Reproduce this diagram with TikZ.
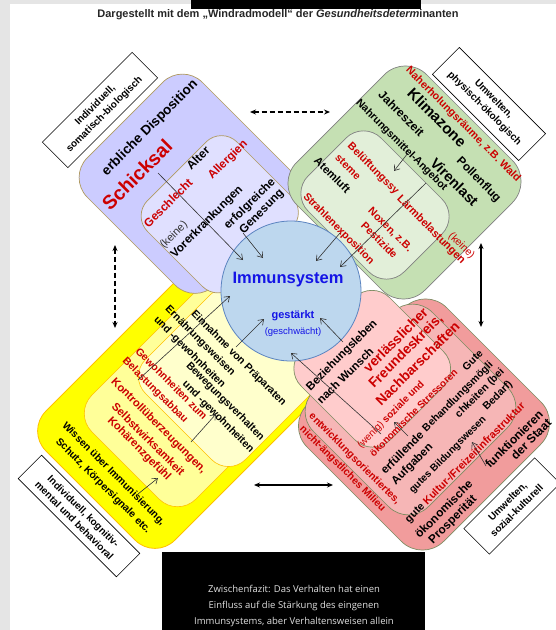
\documentclass[tikz,border=0pt]{standalone}
\usepackage{fontspec}
\setmainfont{Liberation Sans}
\newfontfamily\osans{Open Sans}
\usetikzlibrary{arrows.meta}
\definecolor{pO}{HTML}{CCCCFF}\definecolor{pI}{HTML}{E0E0FF}\definecolor{pB}{HTML}{B09A60}
\definecolor{gO}{HTML}{C5E0B3}\definecolor{gI}{HTML}{E2EFD9}\definecolor{gB}{HTML}{808080}
\definecolor{yO}{HTML}{FFFF00}\definecolor{yM}{HTML}{FFFF99}\definecolor{yI}{HTML}{FFFFCC}\definecolor{yB}{HTML}{FFC000}
\definecolor{rO}{HTML}{F19C9C}\definecolor{rM}{HTML}{F6B6B6}\definecolor{rI}{HTML}{FFCCCC}\definecolor{rB}{HTML}{7E8C62}
\definecolor{cF}{HTML}{BDD7EE}\definecolor{cB}{HTML}{5B84C0}
\definecolor{myred}{HTML}{CC0000}\definecolor{myblue}{HTML}{1414E6}
\newcommand{\fz}[1]{\fontsize{#1}{#1}\selectfont}
\newcommand{\fzl}[2]{\fontsize{#1}{#2}\selectfont}
% style, smin, smax, tmin, tmax  (s=x+y, t=x-y in pixel coordinates)
\newcommand{\windblob}[5]{%
  \path[#1] ({(#2+(#4))/2},{(#2-(#4))/2}) -- ({(#3+(#4))/2},{(#3-(#4))/2})
   -- ({(#3+(#5))/2},{(#3-(#5))/2}) -- ({(#2+(#5))/2},{(#2-(#5))/2}) -- cycle;}
\begin{document}
\begin{tikzpicture}[x=1pt,y=-1pt,
  up/.style={rotate=45, inner sep=0pt},
  dn/.style={rotate=-45, inner sep=0pt},
  rd/.style={text=myred},
  arr/.style={draw=black!80, line width=0.6pt, -{Straight Barb[length=5pt,width=7pt]}},
  dbl/.style={draw=black, line width=1.1pt, {Stealth[length=6pt,width=5pt]}-{Stealth[length=6pt,width=5pt]}},
  dsh/.style={dash pattern=on 5pt off 3pt},
  cbox/.style={draw=black, fill=white, line width=0.6pt, align=center, inner sep=1pt, font=\bfseries\fzl{10}{13}}]
\useasboundingbox (0,0) rectangle (556,630);
\fill[white] (0,0) rectangle (556,630);
\fill[black!10] (0,0) rectangle (10,630);
\fill[black!10] (0,0) rectangle (556,4);
\fill[black] (191,0) rectangle (421,9);
\node[font=\bfseries\fz{11}, text=black!85, inner sep=0pt] (title) at (278,15)
  {Dargestellt mit dem „Windradmodell“ der \textit{Gesundheitsdeterm}inanten};

% yellow
\windblob{fill=yO, draw=yB, line width=0.8pt, rounded corners=28pt}{457}{715}{-405}{-50}
\windblob{fill=yM, draw=yB, line width=0.6pt, rounded corners=26pt}{487}{695}{-340}{-50}
\windblob{fill=yI, draw=yB, line width=0.6pt, rounded corners=24pt}{505}{705}{-248}{-50}
% purple
\windblob{fill=pO, draw=pB, line width=0.7pt, rounded corners=28pt}{245}{500}{-110}{120}
\windblob{fill=pI, draw=pB, line width=0.7pt, rounded corners=22pt}{348}{520}{-84}{95}
% green
\windblob{fill=gO, draw=gB, line width=0.7pt, rounded corners=30pt}{459}{715}{92}{352}
\windblob{fill=gI, draw=gB, line width=0.7pt, rounded corners=25pt}{484}{676}{97}{243}
% red
\windblob{fill=rO, draw=rB, line width=0.7pt, rounded corners=30pt}{712}{985}{-140}{139}
\windblob{fill=rM, draw=rB, line width=0.7pt, rounded corners=28pt}{705}{935}{-118}{120}
\windblob{fill=rI, draw=rB, line width=0.7pt, rounded corners=25pt}{652}{830}{-85}{92}

% circle
\node[circle, fill=cF, draw=cB, line width=0.8pt, minimum size=140pt, inner sep=0pt] (imm) at (291,291) {};
\node[font=\bfseries\fz{16.5}, text=myblue, inner sep=0pt] (immt) at (288,280) {Immunsystem};
\node[font=\bfseries\fz{11}, text=myblue, inner sep=0pt] (gst) at (293,316) {gestärkt};
\node[font=\fz{9.5}, text=myblue, inner sep=0pt] (gsw) at (293,332) {(geschwächt)};

% purple texts
\node[up, font=\bfseries\fz{13.5}] (p1) at (150,128) {erbliche Disposition};
\node[up, rd, font=\bfseries\fz{19.5}] (p2) at (137,175) {Schicksal};
\node[up, font=\bfseries\fz{12}] (p3) at (198,158) {Alter};
\node[up, rd, font=\bfseries\fz{11.7}] (p4) at (228,160) {Allergien};
\node[up, rd, font=\bfseries\fz{11.7}] (p5) at (168,203) {Geschlecht};
\node[up, text=black!80, font=\fz{11}] (p6) at (174,235) {(keine)};
\node[up, font=\bfseries\fz{11.7}] (p7) at (207,222) {Vorerkrankungen};
\node[up, font=\bfseries\fz{11.7}] (p8) at (250,204) {erfolgreiche};
\node[up, font=\bfseries\fz{11.7}] (p9) at (262,212) {Genesung};

% green texts
\node[dn, rd, font=\bfseries\fz{10.7}] (g1) at (463,124.5) {Naherholungsräume, z.B. Wald};
\node[dn, font=\bfseries\fz{15.2}] (g2) at (437,117.5) {Klimazone};
\node[dn, font=\bfseries\fz{12}] (g3) at (401.5,113.5) {Jahreszeit};
\node[dn, font=\bfseries\fz{10.6}] (g4) at (401.5,145.5) {Nahrungsmittel-Angebot};
\node[dn, font=\bfseries\fz{14.5}] (g5) at (454.5,182) {Virenlast};
\node[dn, font=\bfseries\fz{11.8}] (g6) at (478.5,180) {Pollenflug};
\node[dn, rd, font=\fz{10.5}] (g7) at (461.5,246) {(keine)};
\node[dn, rd, font=\bfseries\fz{10.7}] (g8) at (373,169) {Belüftungssy};
\node[dn, rd, font=\bfseries\fz{10.7}] (g9) at (348,167) {steme};
\node[dn, rd, font=\bfseries\fz{11}] (g10) at (431,230) {Lärmbelastungen};
\node[dn, font=\bfseries\fz{11.3}] (g11) at (332.5,175) {Atemluft};
\node[dn, rd, font=\bfseries\fz{10.6}] (g12) at (338.5,229) {Strahlenexposition};
\node[dn, rd, font=\bfseries\fz{10.7}] (g13) at (390,230) {Noxen, z.B.};
\node[dn, rd, font=\bfseries\fz{10.7}] (g14) at (379.5,240) {Pestizide};

% yellow texts
\node[dn, font=\bfseries\fz{10.5}] (y1) at (238.5,358.5) {Einnahme von Präparaten};
\node[dn, font=\bfseries\fz{10.5}] (y2) at (200,341) {Ernährungsweisen};
\node[dn, font=\bfseries\fz{10.5}] (y3) at (189.5,352.5) {und -gewohnheiten};
\node[dn, font=\bfseries\fz{10.5}] (y4) at (225,401.5) {Bewegungsverhalten};
\node[dn, font=\bfseries\fz{10.5}] (y5) at (218,417) {und -gewohnheiten};
\node[dn, rd, font=\bfseries\fz{10.5}] (y6) at (171.5,383.5) {Gewohnheiten zum};
\node[dn, rd, font=\bfseries\fz{10.5}] (y7) at (155,390.5) {Belastungsabbau};
\node[dn, rd, font=\bfseries\fz{11.2}] (y8) at (158.5,426) {Kontrollüberzeugungen,};
\node[dn, rd, font=\bfseries\fz{11.2}] (y9) at (148.5,439) {Selbstwirksamkeit};
\node[dn, rd, font=\bfseries\fz{11.2}] (y10) at (139,449) {Kohärenzgefühl};
\node[dn, font=\bfseries\fz{10.3}] (y11) at (113.5,474) {Wissen über Immunisierung,};
\node[dn, font=\bfseries\fz{10.3}] (y12) at (103,486) {Schutz, Körpersignale etc.};

% red texts
\node[up, font=\bfseries\fz{11.5}] (r1) at (342,355.5) {Beziehungsleben};
\node[up, font=\bfseries\fz{11.5}] (r2) at (345,375.5) {nach Wunsch};
\node[up, rd, font=\bfseries\fz{13.8}] (r3) at (395.5,340) {verlässlicher};
\node[up, rd, font=\bfseries\fz{13.8}] (r4) at (406,351.5) {Freundeskreis,};
\node[up, rd, font=\bfseries\fz{13.8}] (r5) at (417.5,363.5) {Nachbarschaften};
\node[up, rd, font=\bfseries\fz{10}] (r6) at (391,415) {{\mdseries (wenig)} soziale und};
\node[up, rd, font=\bfseries\fz{10}] (r7) at (413.5,412.5) {ökonomische Stressoren};
\node[up, font=\bfseries\fz{11.5}] (r8) at (402,452.5) {erfüllende};
\node[up, font=\bfseries\fz{11.5}] (r9) at (412.5,464.5) {Aufgaben};
\node[up, font=\bfseries\fz{10.5}] (r10) at (458,397) {Behandlungsmögli};
\node[up, font=\bfseries\fz{10.5}] (r11) at (472.5,360) {Gute};
\node[up, font=\bfseries\fz{10.5}] (r12) at (480,393.5) {chkeiten (bei};
\node[up, font=\bfseries\fz{10.5}] (r13) at (498,396) {Bedarf)};
\node[up, font=\bfseries\fz{10.1}] (r14) at (448,455) {gutes Bildungswesen};
\node[up, rd, font=\bfseries\fz{10.7}] (r15) at (465.5,463) {{\color{black}gute} Kultur-/Freizeitinfrastruktur};
\node[up, font=\bfseries\fz{12}] (r16) at (514,439) {funktionieren};
\node[up, font=\bfseries\fz{12}] (r17) at (531,439) {der Staat};
\node[up, font=\bfseries\fz{11.8}] (r18) at (443.5,509) {ökonomische};
\node[up, font=\bfseries\fz{11.8}] (r19) at (453,520) {Prosperität};
\node[dn, rd, font=\bfseries\fz{10.3}] (r20) at (354.5,459) {entwicklungsorientiertes,};
\node[dn, rd, font=\bfseries\fz{10.3}] (r21) at (342.5,469) {nicht-ängstliches Milieu};

% influence arrows
\coordinate (a1s) at (158,173); \coordinate (a1e) at (243,260);
\coordinate (a2s) at (243,233); \coordinate (a2e) at (263,258);
\coordinate (a3s) at (408,153); \coordinate (a3e) at (394,171);
\coordinate (a4s) at (426,183); \coordinate (a4e) at (340,267);
\coordinate (a5s) at (340,233); \coordinate (a5e) at (316,261);
\coordinate (a6s) at (138,380); \coordinate (a6e) at (230,296);
\coordinate (a7s) at (236,347); \coordinate (a7e) at (264,319);
\coordinate (a8s) at (191,442); \coordinate (a8e) at (216,414);
\coordinate (a9s) at (138,494); \coordinate (a9e) at (158,478);
\coordinate (a10s) at (343,342); \coordinate (a10e) at (320,318);
\coordinate (a11s) at (381,434); \coordinate (a11e) at (291,353);
\coordinate (a12s) at (408,436); \coordinate (a12e) at (394,422);
\coordinate (a13s) at (486,466); \coordinate (a13e) at (472,442);
\foreach \i in {1,...,13} {\draw[arr] (a\i s) -- (a\i e);}

% double arrows between sectors
\coordinate (dt1) at (250,112); \coordinate (dt2) at (330,112);
\coordinate (dl1) at (115,245); \coordinate (dl2) at (115,328);
\coordinate (dr1) at (481,243); \coordinate (dr2) at (481,327);
\coordinate (db1) at (254,485); \coordinate (db2) at (333,485);
\draw[dbl, dsh] (dt1) -- (dt2);
\draw[dbl, dsh] (dl1) -- (dl2);
\draw[dbl] (dr1) -- (dr2);
\draw[dbl] (db1) -- (db2);

% corner labels
\node[cbox, rotate=45, minimum width=127pt, minimum height=36pt] (ctl) at (100,110) {Individuell,\\somatisch-biologisch};
\node[cbox, rotate=-45, minimum width=122pt, minimum height=38pt] (ctr) at (489,104) {Umwelten,\\physisch-ökologisch};
\node[cbox, rotate=-45, minimum width=139pt, minimum height=33pt] (cbl) at (79,516) {Individuell, kognitiv-\\mental und behavioral};
\node[cbox, rotate=45, minimum width=100pt, minimum height=36pt] (cbr) at (512,506) {Umwelten,\\sozial-kulturell};

% bottom box
\fill[black] (162,552) rectangle (425,630);
\node[font=\osans\fzl{9.5}{16}, text=black!12, align=center, inner sep=0pt] (fazit) at (294,606)
  {Zwischenfazit: Das Verhalten hat einen\\Einfluss auf die Stärkung des eingenen\\Immunsystems, aber Verhaltensweisen allein};
\end{tikzpicture}
\end{document}
